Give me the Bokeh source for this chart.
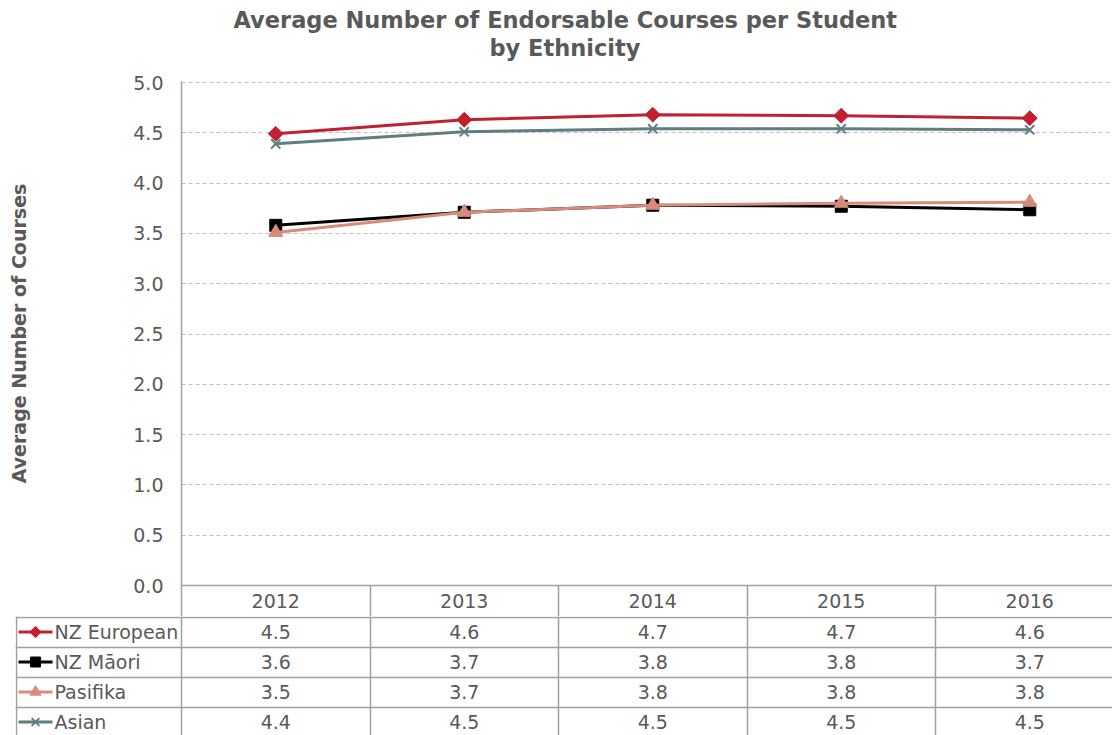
import math
from bokeh.plotting import figure
from bokeh.models import Range1d, FixedTicker, NumeralTickFormatter, Title, Grid
from bokeh.layouts import column
from bokeh.embed import file_html
from bokeh.resources import INLINE
from bokeh.core.properties import value

# ---------------- data ----------------
years = ["2012", "2013", "2014", "2015", "2016"]
series_names = ["NZ European", "NZ Māori", "Pasifika", "Asian"]
nz_european = [4.49, 4.63, 4.68, 4.67, 4.645]
nz_maori = [3.58, 3.71, 3.78, 3.77, 3.735]
pasifika = [3.51, 3.71, 3.78, 3.80, 3.81]
asian = [4.39, 4.51, 4.54, 4.54, 4.53]
y_ticks = [0.0, 0.5, 1.0, 1.5, 2.0, 2.5, 3.0, 3.5, 4.0, 4.5, 5.0]

series_values = [nz_european, nz_maori, pasifika, asian]

# ---------------- style ----------------
colors = ["#C0202F", "#000000", "#D98A7A", "#5E7E80"]
markers = ["square", "square", "triangle", "x"]
marker_angles = [math.pi / 4, 0, 0, 0]
marker_sizes = [10.5, 12, 14, 13]
legend_marker_sizes = [8, 10, 11, 11]
FONT = "DejaVu Sans"
TXT = "#595959"
LINE_GRAY = "#a0a0a0"
GRID_GRAY = "#c0c0c0"

W = 1112
PX_CAT = 188.5          # pixels per category
FRAME_LEFT = 181        # page px
FRAME_RIGHT = W


def tx(px):
    return -0.5 + (px - FRAME_LEFT) / PX_CAT


xs = list(range(len(years)))

# ---------------- main chart ----------------
p = figure(width=W, height=616,
           x_range=Range1d(-0.5, tx(FRAME_RIGHT)),
           y_range=Range1d(0, 5.0 + 1 / 100.6),
           output_backend="svg", toolbar_location=None,
           min_border_left=181, min_border_right=0,
           min_border_top=81, min_border_bottom=31)
p.outline_line_color = None

p.title.text = "Average Number of Endorsable Courses per Student"
p.title.align = "left"
p.title.offset = 52
p.title.text_font = FONT
p.title.text_font_size = "22.5px"
p.title.text_font_style = "bold"
p.title.text_color = TXT
p.title.standoff = 0

spacer = Title(text=" ", text_font_size="10px", standoff=8)
p.add_layout(spacer, "above")
t2 = Title(text="by Ethnicity", align="left", offset=308, text_font=FONT,
           text_font_size="22.5px", text_font_style="bold", text_color=TXT, standoff=0)
p.add_layout(t2, "above")

# grid
p.xgrid.visible = False
p.ygrid.ticker = FixedTicker(ticks=y_ticks[1:])
p.ygrid.grid_line_color = GRID_GRAY
p.ygrid.grid_line_dash = "4 3"
p.ygrid.grid_line_width = 1

# y axis
p.yaxis.ticker = FixedTicker(ticks=y_ticks)
p.yaxis.formatter = NumeralTickFormatter(format="0.0")
p.yaxis.axis_line_color = LINE_GRAY
p.yaxis.axis_line_width = 1.5
p.yaxis.major_tick_line_color = None
p.yaxis.minor_tick_line_color = None
p.yaxis.major_tick_out = 0
p.yaxis.major_label_standoff = 18
p.yaxis.major_label_text_font = FONT
p.yaxis.major_label_text_font_size = "19px"
p.yaxis.major_label_text_color = TXT
p.yaxis.axis_label = "Average Number of Courses"
p.yaxis.axis_label_text_font = FONT
p.yaxis.axis_label_text_font_size = "19px"
p.yaxis.axis_label_text_font_style = "bold"
p.yaxis.axis_label_text_color = TXT
p.yaxis.axis_label_standoff = 100

# x axis (header row of table)
p.xaxis.ticker = FixedTicker(ticks=xs, minor_ticks=[-0.5, 0.5, 1.5, 2.5, 3.5])
p.xaxis.major_label_overrides = {i: y for i, y in zip(xs, years)}
p.xaxis.axis_line_color = LINE_GRAY
p.xaxis.axis_line_width = 1.5
p.xaxis.major_tick_line_color = None
p.xaxis.major_tick_out = 0
p.xaxis.minor_tick_line_color = LINE_GRAY
p.xaxis.minor_tick_line_width = 1.5
p.xaxis.minor_tick_in = 0
p.xaxis.minor_tick_out = 31
p.xaxis.major_label_standoff = -23
p.xaxis.major_label_text_font = FONT
p.xaxis.major_label_text_font_size = "19px"
p.xaxis.major_label_text_color = TXT

for vals, c, m, a, s in zip(series_values, colors, markers, marker_angles, marker_sizes):
    p.line(xs, vals, line_color=c, line_width=3)
    if m == "x":
        p.scatter(xs, vals, marker=m, size=s, line_color=c, line_width=2)
    else:
        p.scatter(xs, vals, marker=m, size=s, angle=a, fill_color=c, line_color=c)

# ---------------- data table ----------------
ROW_PX = 30.0
Q_H = 735 - 616
q = figure(width=W, height=Q_H,
           x_range=Range1d(tx(15), tx(FRAME_RIGHT)),
           y_range=Range1d(-0.5 + (Q_H - 0.5) / ROW_PX, -0.5 - 0.5 / ROW_PX),
           output_backend="svg", toolbar_location=None,
           x_axis_location=None, y_axis_location=None,
           min_border_left=15, min_border_right=0,
           min_border_top=0, min_border_bottom=0)
q.outline_line_color = None
q.center = []
q.add_layout(Grid(dimension=0, ticker=FixedTicker(ticks=[tx(16), -0.5, 0.5, 1.5, 2.5, 3.5]),
                  grid_line_color=LINE_GRAY, grid_line_width=1.5))
q.add_layout(Grid(dimension=1, ticker=FixedTicker(ticks=[-0.5, 0.5, 1.5, 2.5]),
                  grid_line_color=LINE_GRAY, grid_line_width=1.5))

for fig in (p, q):
    if "frame_align" in fig.properties():
        fig.frame_align = False

for r, (name, vals, c, m, a, s) in enumerate(zip(series_names, series_values, colors,
                                                 markers, marker_angles,
                                                 legend_marker_sizes)):
    q.text(xs, [r] * len(xs), text=[f"{v:.1f}" for v in vals],
           text_align="center", text_baseline="middle",
           text_font=value(FONT), text_font_size="19px", text_color=TXT)
    q.text([tx(54)], [r], text=[name], text_align="left", text_baseline="middle",
           text_font=value(FONT), text_font_size="19px", text_color=TXT)
    q.segment(x0=[tx(18)], y0=[r], x1=[tx(52)], y1=[r], line_color=c, line_width=3)
    if m == "x":
        q.scatter([tx(35)], [r], marker=m, size=s, line_color=c, line_width=2)
    else:
        q.scatter([tx(35)], [r], marker=m, size=s, angle=a, fill_color=c, line_color=c)

layout = column(p, q, spacing=0)
open("out.html", "w").write(file_html(layout, INLINE))
